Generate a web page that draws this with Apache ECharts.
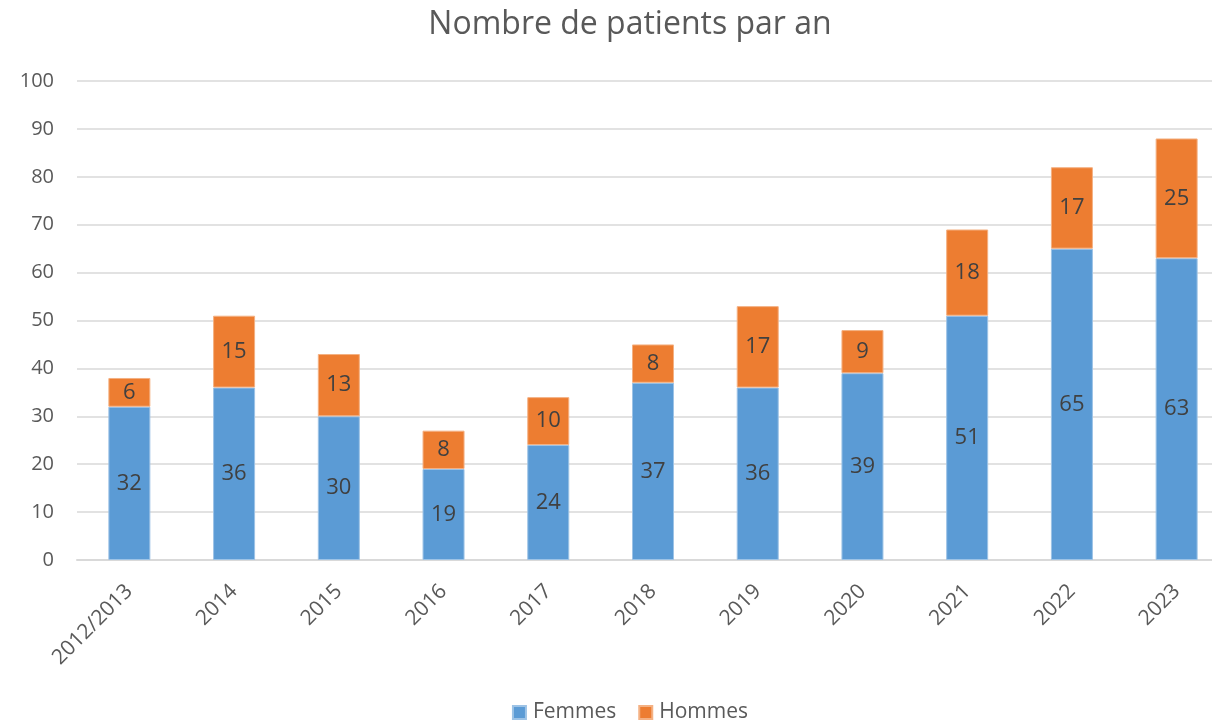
<!DOCTYPE html>
<html>
<head>
<meta charset="utf-8">
<script src="https://cdn.jsdelivr.net/npm/echarts@6/dist/echarts.min.js"></script>
<style>
  html, body { margin: 0; padding: 0; background: #fff; overflow: hidden; }
  /* the original chart is wider than the picture; its right part is cut off */
  #chart { width: 1260px; height: 721px; }
</style>
</head>
<body>
<div id="chart"></div>
<script>
const years = ['2012/2013', '2014', '2015', '2016', '2017', '2018', '2019', '2020', '2021', '2022', '2023'];
const femmes = [32, 36, 30, 19, 24, 37, 36, 39, 51, 65, 63];
const hommes = [6, 15, 13, 8, 10, 8, 17, 9, 18, 17, 25];
const yTicks = { min: 0, max: 100, interval: 10 };

const font = '"Open Sans", sans-serif';
const myChart = echarts.init(document.getElementById('chart'));

const labelStyle = {
  show: true,
  position: 'inside',
  color: '#404040',
  fontSize: 22,
  fontFamily: font
};

const option = {
  animation: false,
  title: {
    text: 'Nombre de patients par an',
    left: 'center',
    top: 4,
    textStyle: { color: '#595959', fontSize: 32, fontWeight: 'normal', fontFamily: font }
  },
  legend: {
    bottom: -7,
    left: 'center',
    itemWidth: 13,
    itemHeight: 13,
    itemGap: 22,
    icon: 'rect',
    textStyle: { color: '#595959', fontSize: 21, fontFamily: font, padding: [0, 0, 0, 2] }
  },
  grid: { left: 77, right: 31, top: 81, bottom: 161 },
  xAxis: {
    type: 'category',
    data: years,
    axisLine: { lineStyle: { color: '#D9D9D9', width: 2 } },
    axisTick: { show: false },
    axisLabel: { rotate: 45, color: '#595959', fontSize: 21, fontFamily: font, margin: 28 }
  },
  yAxis: {
    type: 'value',
    min: yTicks.min,
    max: yTicks.max,
    interval: yTicks.interval,
    axisLine: { show: false },
    axisTick: { show: false },
    splitLine: { lineStyle: { color: '#D9D9D9', width: 1.5 } },
    axisLabel: { color: '#595959', fontSize: 20, fontFamily: font, margin: 23 }
  },
  series: [
    {
      name: 'Femmes',
      type: 'bar',
      stack: 'total',
      barWidth: 42,
      data: femmes,
      itemStyle: { color: '#5B9BD5', borderColor: '#9DC3E6', borderWidth: 1 },
      label: labelStyle
    },
    {
      name: 'Hommes',
      type: 'bar',
      stack: 'total',
      barWidth: 42,
      data: hommes,
      itemStyle: { color: '#ED7D31', borderColor: '#F4B183', borderWidth: 1 },
      label: labelStyle
    }
  ]
};

myChart.setOption(option);
</script>
</body>
</html>
